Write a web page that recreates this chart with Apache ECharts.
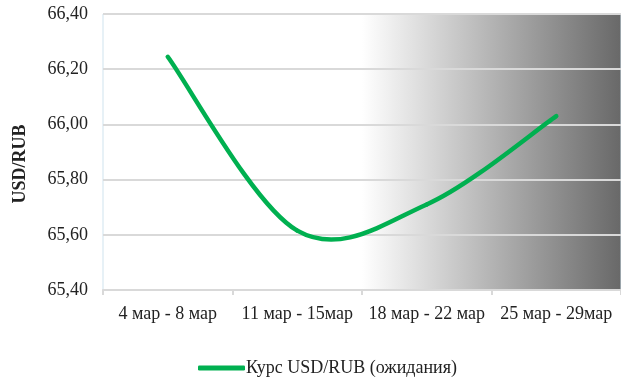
<!DOCTYPE html>
<html><head><meta charset="utf-8">
<script src="https://cdn.jsdelivr.net/npm/echarts@6/dist/echarts.min.js"></script>
<style>html,body{margin:0;padding:0;background:#fff}#c{width:621px;height:379px}</style>
</head><body><div id="c"></div>
<script>
const categories = ['4 мар - 8 мар', '11 мар - 15мар', '18 мар - 22 мар', '25 мар - 29мар'];
const seriesName = 'Курс USD/RUB (ожидания)';
const values = [66.245, 65.615, 65.71, 66.03];
const yMin = 65.40, yMax = 66.40, yStep = 0.20;
const axisTitle = 'USD/RUB';

const chart = echarts.init(document.getElementById('c'), null, {renderer: 'canvas'});
const font = '"Liberation Serif", "Times New Roman", serif';
const lineColor = '#00b050';

// Excel-like (Catmull-Rom) smoothed segment between data point i and i+1
function renderSegment(params, api) {
  const i = params.dataIndex;
  const n = values.length;
  if (i >= n - 1) return null;
  const P = k => api.coord([Math.max(0, Math.min(n - 1, k)), values[Math.max(0, Math.min(n - 1, k))]]);
  const p0 = P(i - 1), p1 = P(i), p2 = P(i + 1), p3 = P(i + 2);
  const t = 1 / 6;
  return {
    type: 'bezierCurve',
    shape: {
      x1: p1[0], y1: p1[1],
      cpx1: p1[0] + (p2[0] - p0[0]) * t, cpy1: p1[1] + (p2[1] - p0[1]) * t,
      cpx2: p2[0] - (p3[0] - p1[0]) * t, cpy2: p2[1] - (p3[1] - p1[1]) * t,
      x2: p2[0], y2: p2[1]
    },
    style: {stroke: lineColor, lineWidth: 4.5, fill: null, lineCap: 'round'}
  };
}

chart.setOption({
  animation: false,
  textStyle: {fontFamily: font},
  grid: {
    left: 103, top: 14, width: 524, height: 276,
    show: true, borderColor: '#cfe3ee', borderWidth: 1,
    backgroundColor: {
      type: 'linear', x: 0, y: 0, x2: 1, y2: 0,
      colorStops: [
        {offset: 0, color: '#ffffff'},
        {offset: 0.5, color: '#ffffff'},
        {offset: 1, color: '#686868'}
      ]
    }
  },
  xAxis: {
    type: 'category', data: categories, boundaryGap: true,
    axisLine: {lineStyle: {color: '#d9d9d9', width: 2}},
    axisTick: {show: true, length: 5, lineStyle: {color: '#d9d9d9', width: 2}},
    axisLabel: {color: '#222', fontSize: 18, fontFamily: font, margin: 15, interval: 0}
  },
  yAxis: {
    type: 'value', min: yMin, max: yMax, interval: yStep,
    axisLine: {show: false}, axisTick: {show: false},
    splitLine: {lineStyle: {color: '#d9d9d9', width: 2}},
    axisLabel: {color: '#222', fontSize: 18, fontFamily: font, margin: 15,
      formatter: v => v.toFixed(2).replace('.', ',')}
  },
  graphic: [{
    type: 'text', x: 20, y: 164, rotation: Math.PI / 2,
    style: {text: axisTitle, fill: '#222', font: 'bold 18px ' + font,
      textAlign: 'center', textVerticalAlign: 'middle'}
  }],
  legend: {
    data: [{name: seriesName, icon: 'roundRect'}], left: 193, top: 354,
    itemWidth: 47, itemHeight: 5, itemGap: 4,
    textStyle: {color: '#222', fontSize: 18, fontFamily: font, padding: [0,0,0,-4]}
  },
  series: [{
    name: seriesName, type: 'custom', renderItem: renderSegment,
    data: values.map((v, i) => [i, v]),
    encode: {x: 0, y: 1},
    itemStyle: {color: lineColor}
  }]
});
</script></body></html>
